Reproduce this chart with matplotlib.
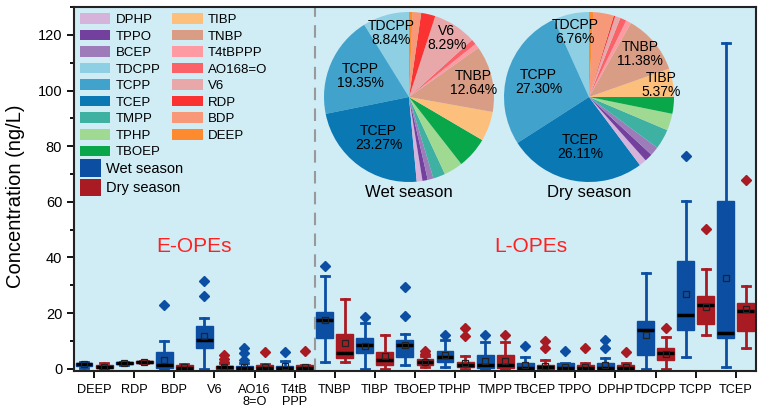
import matplotlib
matplotlib.use("Agg")
import matplotlib.pyplot as plt
import numpy as np
from matplotlib.patches import Patch

plt.rcParams['font.family'] = ['Liberation Sans', 'DejaVu Sans']

compounds = ['DEEP', 'RDP', 'BDP', 'V6', 'AO168=O', 'T4tBPPP', 'TNBP', 'TIBP', 'TBOEP',
             'TPHP', 'TMPP', 'TBCEP', 'TPPO', 'DPHP', 'TDCPP', 'TCPP', 'TCEP']
tick_labels = ['DEEP', 'RDP', 'BDP', 'V6', 'AO16\n8=O', 'T4tB\nPPP', 'TNBP', 'TIBP', 'TBOEP',
               'TPHP', 'TMPP', 'TBCEP', 'TPPO', 'DPHP', 'TDCPP', 'TCPP', 'TCEP']

# box statistics (ng/L)
wet_whislo = [0.2, 1.3, 0, 0, 0, 0, 2.4, 0, 1.3, 0.8, 0, 0, 0, 0, 0, 4.2, 0.7]
wet_q1 = [1.0, 1.8, 0.2, 7.5, 0, 0, 10.9, 5.5, 4.2, 2.5, 0.2, 0, 0, 0, 4.8, 14.1, 11.1]
wet_med = [1.6, 2.1, 1.3, 10.5, 0.3, 0.3, 17.7, 8.7, 8.5, 4.2, 1.3, 0.4, 0.4, 0.3, 13.8, 19.2, 12.9]
wet_q3 = [2.2, 2.4, 6.1, 15.5, 0.9, 1.0, 20.4, 10.9, 10.3, 6.3, 5.1, 2.2, 1.9, 2.1, 17.3, 38.6, 60.4]
wet_whishi = [2.6, 2.5, 9.9, 18.3, 2.0, 2.7, 33.2, 16.5, 12.5, 10.2, 9.7, 4.3, 1.9, 3.7, 34.4, 60.4, 117.1]
wet_mean = [1.7, 2.1, 3.3, 11.7, 0.6, 0.9, 17.5, 8.1, 8.4, 5.0, 2.9, 1.2, 0.8, 1.3, 12.3, 27.0, 32.6]
wet_fliers = [[], [], [23.1], [26.0, 31.4], [3.2, 5.8, 7.4], [6.0], [37.0], [18.5], [19.1, 29.4],
              [12.3], [12.3], [8.1], [6.3], [7.3, 10.3], [], [76.6], []]

dry_whislo = [0, 1.9, 0, 0, 0, 0, 2.4, 0, 0.8, 0, 0, 0, 0, 0, 0, 12.1, 7.3]
dry_q1 = [0.2, 2.1, 0, 0, 0, 0, 3.7, 1.2, 1.4, 0.8, 0.2, 0, 0, 0, 3.0, 16.1, 13.7]
dry_med = [0.8, 2.4, 0.4, 0.5, 0.3, 0.4, 5.7, 3.0, 2.5, 1.3, 1.3, 0.6, 0.3, 0.3, 5.7, 23.1, 20.7]
dry_q3 = [1.5, 2.7, 1.3, 1.0, 1.3, 1.2, 12.5, 6.1, 3.6, 2.4, 5.1, 1.5, 1.3, 1.5, 7.3, 26.3, 23.7]
dry_whishi = [2.0, 2.9, 1.8, 2.0, 1.8, 1.5, 25.1, 12.3, 4.5, 4.6, 9.7, 3.0, 2.2, 2.2, 11.3, 35.9, 29.9]
dry_mean = [0.8, 2.4, 0.6, 0.8, 0.8, 0.7, 9.2, 4.5, 2.6, 2.2, 2.9, 0.9, 0.8, 0.7, 5.4, 22.3, 21.5]
dry_fliers = [[], [], [], [2.6, 3.6, 4.8], [6.0], [6.4], [], [], [5.2, 6.3], [11.7, 14.7], [12.3],
              [7.3, 9.9], [7.3], [6.1], [14.7], [50.1], [67.9]]

# composition pies (%)
pie_names = ['TDCPP', 'TCPP', 'TCEP', 'DPHP', 'TPPO', 'BCEP', 'TMPP', 'TPHP', 'TBOEP', 'TIBP',
             'TNBP', 'T4tBPPP', 'AO168=O', 'V6', 'RDP', 'BDP', 'DEEP']
wet_pct = [8.84, 19.35, 23.27, 1.1, 1.0, 1.1, 2.3, 3.6, 6.0, 5.64, 12.64, 0.9, 1.0, 8.29, 2.7, 1.6, 0.7]
dry_pct = [6.76, 27.30, 26.11, 1.4, 1.5, 1.7, 3.8, 3.2, 3.2, 5.37, 11.38, 1.0, 1.2, 1.0, 0.3, 3.9, 0.8]
wet_shown = ['TDCPP', 'TCPP', 'TCEP', 'TNBP', 'V6']
dry_shown = ['TDCPP', 'TCPP', 'TCEP', 'TNBP', 'TIBP']

legend_order = ['DPHP', 'TPPO', 'BCEP', 'TDCPP', 'TCPP', 'TCEP', 'TMPP', 'TPHP', 'TBOEP',
                'TIBP', 'TNBP', 'T4tBPPP', 'AO168=O', 'V6', 'RDP', 'BDP', 'DEEP']
colors = {'DPHP': '#d5b3da', 'TPPO': '#74409e', 'BCEP': '#9d7cb9', 'TDCPP': '#8ecfe3',
          'TCPP': '#41a2cc', 'TCEP': '#0a78b3', 'TMPP': '#3fb1a2', 'TPHP': '#a0d992',
          'TBOEP': '#0aa74a', 'TIBP': '#fdbf7c', 'TNBP': '#d99d86', 'T4tBPPP': '#fd9aa2',
          'AO168=O': '#fb6268', 'V6': '#e8a8a9', 'RDP': '#fb3232', 'BDP': '#f79879',
          'DEEP': '#fd8a2f'}

wet_c = '#0b4ea2'
dry_c = '#a81b22'
bg = '#d0ecf5'


def make_stats(lo, q1, med, q3, hi, mean, fl):
    return [dict(whislo=lo[i], q1=q1[i], med=med[i], q3=q3[i], whishi=hi[i], mean=mean[i],
                 fliers=fl[i]) for i in range(len(lo))]


def draw_boxes(ax, stats, pos, c):
    ax.bxp(stats, positions=pos, widths=0.42, capwidths=0.2, patch_artist=True, showmeans=True,
           manage_ticks=False,
           boxprops=dict(facecolor=c, edgecolor=c, linewidth=1),
           medianprops=dict(color='black', linewidth=2.5, solid_capstyle='butt'),
           whiskerprops=dict(color=c, linewidth=2),
           capprops=dict(color=c, linewidth=2),
           meanprops=dict(marker='s', markerfacecolor='none', markeredgecolor='#222222',
                          markersize=5, markeredgewidth=0.9),
           flierprops=dict(marker='D', markerfacecolor=c, markeredgecolor=c, markersize=5))


fig = plt.figure(figsize=(7.67, 4.15), dpi=100)
ax = fig.add_axes([0.0965, 0.106, 0.889, 0.877])
ax.set_facecolor(bg)

x = np.arange(len(compounds))
draw_boxes(ax, make_stats(wet_whislo, wet_q1, wet_med, wet_q3, wet_whishi, wet_mean, wet_fliers),
           x - 0.25, wet_c)
draw_boxes(ax, make_stats(dry_whislo, dry_q1, dry_med, dry_q3, dry_whishi, dry_mean, dry_fliers),
           x + 0.25, dry_c)

ax.axvline(5.5, color='#999999', linestyle=(0, (6, 4)), linewidth=1.5)
ax.text(2.5, 44, 'E-OPEs', color='#ff2020', fontsize=15, ha='center', va='center')
ax.text(10.9, 44, 'L-OPEs', color='#ff2020', fontsize=15, ha='center', va='center')

ax.set_xlim(-0.5, len(compounds) - 0.5)
ax.set_ylim(-0.8, 130)
ax.set_xticks(x)
ax.set_xticklabels(tick_labels, fontsize=9.2, linespacing=1.0)
ax.set_yticks(np.arange(0, 121, 20))
ax.set_yticks(np.arange(10, 131, 20), minor=True)
ax.tick_params(axis='y', labelsize=10.5, width=1.3, length=5)
ax.tick_params(axis='y', which='minor', width=1.3, length=3)
ax.tick_params(axis='x', width=1.3, length=5, pad=4)
ax.set_ylabel('Concentration (ng/L)', fontsize=14.5)
ax.yaxis.set_label_coords(-0.072, 0.48)
for s in ax.spines.values():
    s.set_linewidth(1.5)
    s.set_color('#222222')

# legends
h1 = [Patch(facecolor=colors[n], edgecolor='none', label=n) for n in legend_order]
leg1 = ax.legend(handles=h1, ncol=2, loc='upper left', bbox_to_anchor=(0.005, 0.99), frameon=False,
                 fontsize=9.5, handlelength=2.3, handleheight=0.85, labelspacing=0.28,
                 handletextpad=0.4, columnspacing=0.9, borderpad=0.2, borderaxespad=0)
ax.add_artist(leg1)
h2 = [Patch(facecolor=wet_c, label='Wet season'), Patch(facecolor=dry_c, label='Dry season')]
ax.legend(handles=h2, loc='upper left', bbox_to_anchor=(0.004, 0.59), frameon=False,
          fontsize=10.5, handlelength=1.45, handleheight=1.45, labelspacing=0.15,
          handletextpad=0.35, borderpad=0.2, borderaxespad=0)

# pies
label_r = {'TDCPP': 0.78, 'TCPP': 0.62, 'TCEP': 0.6, 'TNBP': 0.78, 'V6': 0.82, 'TIBP': 0.86}


def draw_pie(cx, cy, pct, shown, title):
    r = 85
    pax = fig.add_axes([(cx - r) / 767, 1 - (cy + r) / 415, 2 * r / 767, 2 * r / 415])
    wedges, _ = pax.pie(pct, colors=[colors[n] for n in pie_names], startangle=90,
                        counterclock=True, wedgeprops=dict(linewidth=0))
    for w, n, p in zip(wedges, pie_names, pct):
        if n in shown:
            a = np.deg2rad((w.theta1 + w.theta2) / 2)
            rr = label_r[n]
            pax.text(rr * np.cos(a), rr * np.sin(a), '%s\n%.2f%%' % (n, p), ha='center',
                     va='center', fontsize=10, linespacing=1.0)
    pax.text(0, -1.04, title, ha='center', va='top', fontsize=12)
    pax.set_xlim(-1, 1)
    pax.set_ylim(-1, 1)
    pax.set_aspect('equal')
    pax.axis('off')


draw_pie(409, 97, wet_pct, wet_shown, 'Wet season')
draw_pie(589, 97, dry_pct, dry_shown, 'Dry season')

fig.savefig('out.png', dpi=100)
